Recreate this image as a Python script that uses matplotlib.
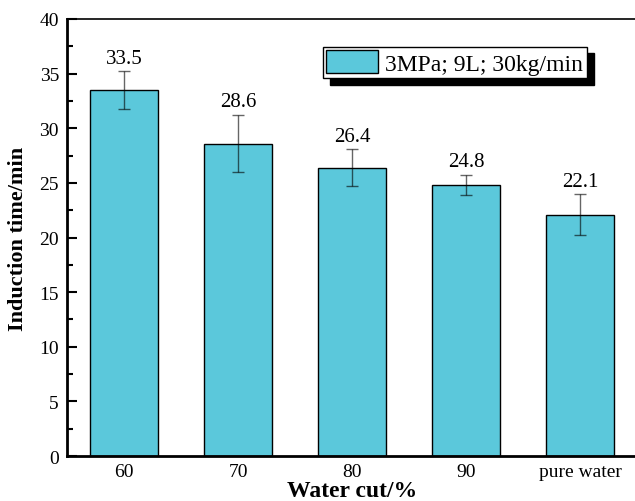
import matplotlib.pyplot as plt
from matplotlib.ticker import MultipleLocator
from matplotlib.patches import Shadow

# data
categories = ['60', '70', '80', '90', 'pure water']
induction_time = [33.5, 28.6, 26.4, 24.8, 22.1]
errors = [1.75, 2.65, 1.7, 0.95, 1.85]
legend_label = '3MPa; 9L; 30kg/min'

plt.rcParams['font.family'] = ['Liberation Serif', 'DejaVu Serif']

fig = plt.figure(figsize=(6.35, 5.02), dpi=100)
ax = fig.add_axes([0.106, 0.0896, 0.897, 0.8706])

x = range(len(categories))
ax.bar(x, induction_time, width=0.6, color='#5BC8DB', edgecolor='black',
       linewidth=1.0, label=legend_label, zorder=2)
ax.errorbar(x, induction_time, yerr=errors, fmt='none', ecolor='black',
            alpha=0.6, elinewidth=1.0, capsize=4, capthick=1.0, zorder=3)

for xi, v, e in zip(x, induction_time, errors):
    ax.text(xi, v + e + 0.3, f'{v}', ha='center', va='bottom', fontsize=15)

ax.set_xlim(-0.5, 4.5)
ax.set_ylim(0, 40)
ax.set_xticks(list(x))
ax.set_xticklabels(categories)
ax.yaxis.set_major_locator(MultipleLocator(5))
ax.yaxis.set_minor_locator(MultipleLocator(2.5))

ax.tick_params(axis='y', which='major', direction='in', length=7, width=1.5,
               labelsize=14, pad=6)
ax.tick_params(axis='y', which='minor', direction='in', length=4, width=1.5)
ax.tick_params(axis='x', which='major', direction='in', length=6, width=1.5,
               labelsize=14, pad=5)

for side in ['left', 'bottom']:
    ax.spines[side].set_linewidth(2.0)
ax.spines['top'].set_linewidth(1.2)
ax.spines['right'].set_linewidth(1.2)

ax.set_xlabel('Water cut/%', fontsize=17, fontweight='bold', labelpad=0)
ax.set_ylabel('Induction time/min', fontsize=16, fontweight='bold', labelpad=8)

leg = ax.legend(loc='upper left', bbox_to_anchor=(0.4486, 0.936), fontsize=17,
                frameon=True, fancybox=False, edgecolor='black',
                handlelength=2.2, handleheight=1.1, borderpad=0.15,
                handletextpad=0.3, borderaxespad=0)
leg.get_frame().set_linewidth(1.0)
leg.get_frame().set_alpha(1.0)

# heavier offset shadow behind the legend box
fig.canvas.draw()
sh = Shadow(leg.legendPatch, 5, -4.5, color='black', alpha=1.0)
sh.set_zorder(leg.get_zorder() - 0.1)
ax.add_artist(sh)

plt.savefig('out.png', dpi=100)
